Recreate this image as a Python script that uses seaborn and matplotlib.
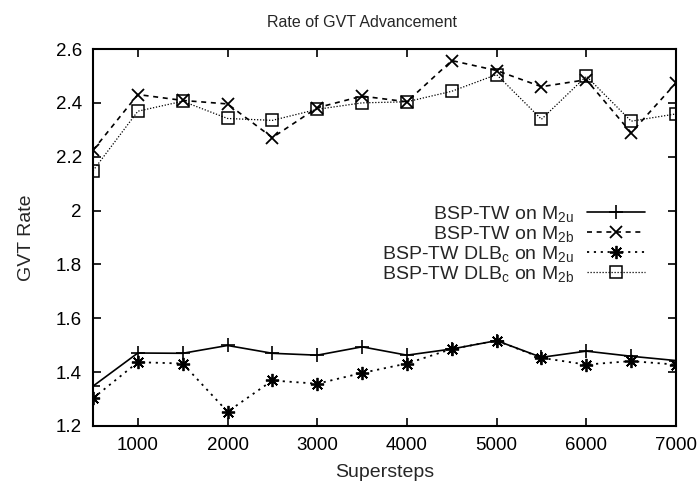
import numpy as np
import pandas as pd
import seaborn as sns
import matplotlib
matplotlib.use("Agg")
import matplotlib.pyplot as plt
from matplotlib.ticker import FuncFormatter

supersteps = [500, 1000, 1500, 2000, 2500, 3000, 3500, 4000, 4500, 5000, 5500, 6000, 6500, 7000]
bsp_m2u = [1.348, 1.471, 1.470, 1.499, 1.470, 1.463, 1.494, 1.463, 1.486, 1.517, 1.455, 1.478, 1.459, 1.443]
bsp_m2b = [2.224, 2.431, 2.409, 2.396, 2.271, 2.382, 2.425, 2.404, 2.557, 2.520, 2.460, 2.486, 2.289, 2.474]
dlb_m2u = [1.303, 1.437, 1.432, 1.253, 1.369, 1.357, 1.397, 1.432, 1.486, 1.517, 1.453, 1.428, 1.441, 1.428]
dlb_m2b = [2.148, 2.369, 2.406, 2.342, 2.335, 2.376, 2.400, 2.404, 2.443, 2.505, 2.339, 2.499, 2.332, 2.359]

labels = [r"BSP-TW on M$_{\mathregular{2u}}$",
          r"BSP-TW on M$_{\mathregular{2b}}$",
          r"BSP-TW DLB$_{\mathregular{c}}$ on M$_{\mathregular{2u}}$",
          r"BSP-TW DLB$_{\mathregular{c}}$ on M$_{\mathregular{2b}}$"]

sns.set_style("ticks")
plt.rcParams['font.family'] = ['Liberation Sans', 'DejaVu Sans']
plt.rcParams['mathtext.fontset'] = 'custom'
plt.rcParams['mathtext.rm'] = 'Liberation Sans'
plt.rcParams['mathtext.it'] = 'Liberation Sans'

fig = plt.figure(figsize=(6.98, 4.87), dpi=100)
ax = fig.add_axes([93 / 698, 1 - 426 / 487, 583 / 698, 377 / 487])

series = [bsp_m2u, bsp_m2b, dlb_m2u, dlb_m2b]
styles = [
    dict(linestyle='-', linewidth=1.2, marker='+', markersize=10, mew=1.2),
    dict(linestyle=(0, (3, 2.8)), linewidth=1.2, marker='x', markersize=8.5, mew=1.3),
    dict(linestyle=(0, (1.2, 2.6)), linewidth=1.3, marker=(8, 2, 0), markersize=9.5, mew=1.3),
    dict(linestyle=(0, (1, 1.4)), linewidth=0.9, marker='s', markersize=8.5, mew=1.1, mfc='none'),
]
for vals, lab, st in zip(series, labels, styles):
    df = pd.DataFrame({"Supersteps": supersteps, "GVT Rate": vals})
    sns.lineplot(data=df, x="Supersteps", y="GVT Rate", ax=ax, color='black',
                 label=lab, mec='black', **st)

ax.set_xlim(500, 7000)
ax.set_ylim(1.2, 2.6)
ax.set_xticks([1000, 2000, 3000, 4000, 5000, 6000, 7000])
ax.set_yticks([1.2, 1.4, 1.6, 1.8, 2.0, 2.2, 2.4, 2.6])
ax.yaxis.set_major_formatter(FuncFormatter(lambda v, p: f"{v:g}"))
ax.tick_params(direction='in', top=True, right=True, length=6, width=1.2,
               labelsize=13.5, colors='black', pad=8)
for s in ax.spines.values():
    s.set_linewidth(1.5)
    s.set_color('black')

fig.text(362 / 698, 1 - 27 / 487, "Rate of GVT Advancement", fontsize=11.5,
         ha='center', va='baseline')
ax.set_xlabel("Supersteps", fontsize=14)
ax.set_ylabel("GVT Rate", fontsize=14)
ax.xaxis.set_label_coords(0.5, -0.1)
ax.yaxis.set_label_coords(-0.1, 0.5)

leg = ax.legend(loc='upper right', bbox_to_anchor=(0.96, 0.61), frameon=False,
                markerfirst=False, fontsize=14, handlelength=3.0,
                labelspacing=0.0, handletextpad=0.65, borderaxespad=0)
try:
    for col in leg._legend_handle_box.get_children():
        col.align = "right"
except Exception:
    pass

fig.savefig("out.png", dpi=100)
